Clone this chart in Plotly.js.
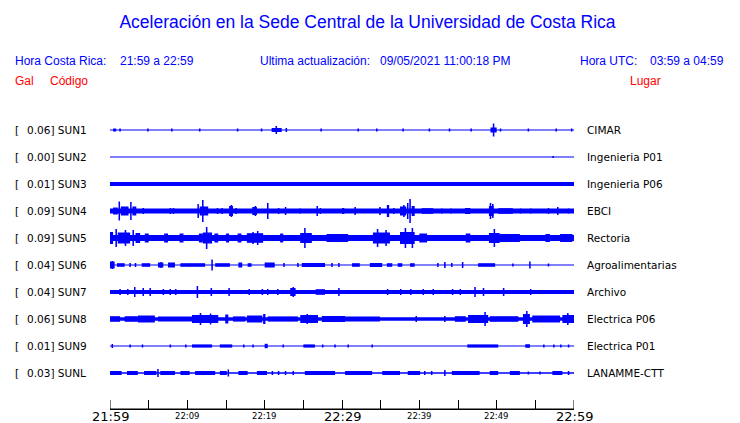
<!DOCTYPE html>
<html>
<head>
<meta charset="utf-8">
<script src="https://cdn.plot.ly/plotly-3.0.1.min.js"></script>
<style>html,body{margin:0;padding:0;background:#fff;}#chart{width:740px;height:423px;}</style>
</head>
<body>
<div id="chart"></div>
<script>
// ---- data ----
const codes = ['SUN1','SUN2','SUN3','SUN4','SUN5','SUN6','SUN7','SUN8','SUN9','SUNL'];
const places = ['CIMAR','Ingenieria P01','Ingenieria P06','EBCI','Rectoria','Agroalimentarias','Archivo','Electrica P06','Electrica P01','LANAMME-CTT'];
const galValues = [0.06, 0.00, 0.01, 0.09, 0.09, 0.04, 0.04, 0.06, 0.01, 0.03];
// background noise level of each trace (relative amplitude, full band)
const noiseLevel = [1, 1, 4, 5, 6, 1, 4, 3.5, 1, 1.5];
// bursts: [start minute, end minute, half amplitude] (minutes after 21:59)
const sun1Bursts = [[0.4,0.8,1.5],[1.2,1.4,1.5],[4.8,5.0,1.5],[7.9,8.1,1.5],[11.5,11.7,1.5],[16.4,16.6,1.5],[19.5,19.7,1.5],[20.9,22.2,2],[21.4,21.6,4],[22.7,22.9,2],[27.2,27.4,1.5],[32.0,32.2,1.5],[34.4,34.6,1.5],[37.8,38.0,1.5],[41.2,41.4,1.5],[43.8,44.0,1.5],[46.6,46.8,1.5],[49.2,50.0,2.5],[49.5,49.7,6.5],[50.4,50.6,1.5],[54.0,54.2,1.5],[57.6,57.8,1.5],[59.6,59.8,1.5]];
const sun2Bursts = [[57.2,57.4,1]];
const sun3Bursts = [];
const sun4Bursts = [[0.4,1.0,3.5],[1.1,1.3,9.5],[1.4,2.4,4.5],[2.6,2.8,9],[2.9,3.4,4.5],[4.2,4.4,3],[7.7,7.9,3],[8.1,8.3,3],[11.3,11.5,7],[11.9,12.1,11],[11.6,12.7,4.5],[13.8,14.0,3],[14.4,14.6,3],[15.4,15.9,5],[15.6,15.8,6],[16.2,16.4,3],[18.4,19.0,4],[18.7,18.9,5],[20.3,20.5,8],[21.7,21.9,3],[22.6,22.8,4],[24.5,24.7,2.5],[26.7,26.9,5],[27.1,27.3,3],[30.0,30.3,3],[31.6,31.8,4],[34.8,35.0,4],[35.8,36.1,6],[36.6,36.8,3],[37.5,38.3,4.5],[37.9,38.1,6],[38.4,38.6,8],[38.7,38.9,12],[39.0,39.4,5],[40.3,41.8,2.8],[42.8,43.0,2.5],[44.0,44.2,2.5],[45.9,46.6,3],[49.0,49.6,5],[49.1,49.3,8],[49.4,49.6,7],[50.2,52.1,2.8],[53.0,53.2,2.5],[54.3,54.5,2.5],[56.6,56.8,3],[57.8,58.0,4],[59.2,59.4,2.5]];
const sun5Bursts = [[0,0.4,6],[0.7,0.9,9],[1.0,2.6,5.5],[1.9,2.1,8],[2.9,3.1,8],[3.3,3.9,5],[4.5,5.0,4.5],[7.0,7.5,4.5],[9.0,9.5,4.5],[11.5,12.0,4.5],[12.0,13.2,5.5],[12.4,12.6,11],[13.5,14.0,4.5],[15.0,15.4,4.5],[16.5,17.0,4.5],[17.7,19.8,4.8],[18.4,18.6,6],[19.0,19.2,7],[22.0,22.4,4.5],[24.6,26.1,5],[25.1,25.3,10],[28.0,30.8,4],[34.0,36.2,5.5],[34.5,34.7,9],[35.6,35.8,8],[37.5,39.4,6],[38.1,38.3,10],[39.0,39.2,10],[40.0,41.0,4.5],[46.0,46.6,4.5],[49.0,50.4,5],[49.6,49.8,9],[50.4,53.0,4],[56.3,56.9,4],[58.2,59.8,4]];
const sun6Bursts = [[0,0.6,3.5],[0.2,0.4,4],[0.9,1.9,1.8],[2.5,2.7,2],[3.2,3.4,2],[4.1,5.2,1.8],[6.2,6.9,2.5],[6.5,6.7,3],[7.5,8.4,2.5],[9.1,12.3,1.8],[13.1,13.3,5.5],[13.6,15.5,1.8],[16.6,17.1,2.5],[17.8,18.3,1.8],[20.0,21.3,2.5],[22.4,22.6,2],[24.2,24.4,2],[24.8,27.8,2],[28.6,28.8,2],[29.5,29.7,2],[31.3,32.3,1.8],[33.6,35.2,2],[35.8,36.5,1.8],[37.2,37.8,1.8],[38.8,39.4,1.8],[42.3,42.5,2],[43.2,43.4,3],[44.1,44.3,2],[45.5,45.7,3],[47.6,49.8,1.8],[52.0,52.2,1.5],[54.2,54.4,3.5],[56.6,56.8,1.5]];
const sun7Bursts = [[1.2,1.4,3],[2.2,2.4,3],[3.1,3.3,5],[4.2,4.4,4],[5.1,5.3,4],[6.8,7.0,3],[7.7,7.9,3],[8.4,8.6,3],[11.2,11.4,6],[13.0,13.2,4],[15.3,15.5,4],[17.9,18.1,3],[19.6,19.8,3],[20.3,20.5,3],[21.6,21.8,3],[23.3,24.0,4],[23.6,23.8,5],[26.6,27.8,2.8],[29.5,29.7,4],[35.8,36.0,3],[37.5,37.7,3],[38.8,39.0,3],[40.4,40.6,3],[41.7,41.9,3],[44.2,44.4,3],[45.2,45.4,3],[47.1,47.3,5],[48.2,48.4,4],[50.8,51.0,4],[54.3,54.5,3]];
const sun8Bursts = [[0,1.3,2.8],[1.9,3.6,2.8],[3.6,5.8,3.5],[6.2,10.6,2.6],[10.6,14.0,4],[11.6,11.8,6],[12.9,13.1,5.5],[14.9,15.3,4.5],[15.9,17.5,2.6],[17.7,19.7,3.5],[19.8,20.1,5],[20.4,24.3,2.6],[24.6,26.9,4],[25.4,25.6,5],[27.4,30.4,3],[30.4,34.9,2.6],[39.5,39.7,3],[43.2,43.4,3],[44.6,46.0,2.8],[46.3,48.9,4],[48.4,48.6,7],[49.1,52.8,2.8],[53.4,54.3,5],[53.8,54.0,8],[54.6,58.2,3.5],[58.5,60,4],[59.1,59.3,6]];
const sun9Bursts = [[0.2,0.4,2],[2.5,2.7,1.5],[4.1,4.3,1.5],[7.7,7.9,1.5],[9.7,9.9,1.5],[10.6,13.2,1.6],[14.2,15.8,1.6],[17.2,17.4,1.5],[18.4,18.6,1.5],[20.0,20.4,2.2],[22.3,22.5,1.5],[25.0,26.5,1.6],[27.4,27.6,1.5],[29.0,29.2,1.5],[30.7,30.9,1.5],[33.8,34.0,1.5],[46.2,50.2,1.6],[53.7,54.3,1.8],[56.0,56.2,1.5],[57.3,57.5,1.5],[58.2,58.4,1.5],[59.2,59.4,1.5]];
const sunLBursts = [[0,1.5,2],[2.2,3.6,2],[4.4,6.0,2],[6.1,6.3,4],[6.5,8.4,2],[9.1,10.3,2],[11.0,13.6,2],[14.2,15.1,2],[15.2,15.4,3.5],[16.6,17.8,2],[19.0,20.3,2],[20.9,21.1,2],[21.7,21.9,2],[22.6,22.8,2],[23.6,23.8,2],[25.2,29.1,2],[30.4,33.9,2],[35.2,37.5,2],[38.5,40.1,2],[40.6,40.8,2],[41.5,41.7,2],[43.2,43.4,3],[44.2,47.8,2],[49.1,50.2,2],[51.7,53.0,2],[54.0,54.2,1.5],[55.5,55.7,1.5],[57.2,58.5,2],[59.2,59.4,2]];
const allBursts = [sun1Bursts, sun2Bursts, sun3Bursts, sun4Bursts, sun5Bursts, sun6Bursts, sun7Bursts, sun8Bursts, sun9Bursts, sunLBursts];
const tickMinutes = [0, 10, 20, 30, 40, 50, 60];
const tickLabels = ['21:59', '22:09', '22:19', '22:29', '22:39', '22:49', '22:59'];
const majorTick = [true, false, false, true, false, false, true];

// ---- build ----
const BLUE = '#0000ff';
const RED = '#ff0000';
const ROW = 27; // amplitude units per row spacing
const traces = [];
allBursts.forEach((bursts, row) => {
  traces.push({
    type: 'scatter', mode: 'lines', x: [0, 60], y: [row, row],
    line: {color: BLUE, width: noiseLevel[row]}, hoverinfo: 'skip'
  });
  if (bursts.length) {
    traces.push({
      type: 'bar',
      x: bursts.map(b => (b[0] + b[1]) / 2),
      width: bursts.map(b => Math.max(b[1] - b[0], 0.16)),
      base: bursts.map(b => row - b[2] / ROW),
      y: bursts.map(b => 2 * b[2] / ROW),
      marker: {color: BLUE, line: {width: 0}},
      hoverinfo: 'skip'
    });
  }
});

const L = 110, R = 574, T = 110, B = 409;
const PAD = 2.3; // annotation inner padding
const px2x = p => (p - L) / (R - L);
const px2y = p => (B - p) / (B - T);
const hdrFont = {family: 'Liberation Sans, Arial, sans-serif', size: 12, color: BLUE};
const redFont = {family: 'Liberation Sans, Arial, sans-serif', size: 12, color: RED};
const lblFont = {family: 'DejaVu Sans, sans-serif', size: 10.5, color: '#000'};
const ann = [];
function addText(text, xp, yp, font) {
  ann.push({text, x: px2x(xp - PAD), y: px2y(yp), xref: 'paper', yref: 'paper',
    xanchor: 'left', yanchor: 'middle', showarrow: false, font});
}
addText('Hora Costa Rica:', 15, 61, hdrFont);
addText('21:59 a 22:59', 120.5, 61, hdrFont);
addText('Ultima actualización:', 260, 61, hdrFont);
addText('09/05/2021 11:00:18 PM', 380.5, 61, hdrFont);
addText('Hora UTC:', 580.5, 61, hdrFont);
addText('03:59 a 04:59', 650.5, 61, hdrFont);
addText('Gal', 15, 81, redFont);
addText('Código', 50, 81, redFont);
addText('Lugar', 630.5, 81, redFont);

codes.forEach((c, row) => {
  const base = {xref: 'paper', yref: 'y', y: row, xanchor: 'left', yanchor: 'middle', showarrow: false, font: lblFont};
  ann.push(Object.assign({text: '[', x: px2x(15 - PAD)}, base));
  ann.push(Object.assign({text: galValues[row].toFixed(2) + '] ' + c, x: px2x(27.5 - PAD)}, base));
  ann.push(Object.assign({text: places[row], x: px2x(587.5 - PAD)}, base));
});
tickMinutes.forEach((m, i) => {
  ann.push({text: tickLabels[i], x: m, xref: 'x', y: px2y(majorTick[i] ? 416.5 : 415.5), yref: 'paper',
    xanchor: 'center', yanchor: 'middle', showarrow: false,
    font: {family: 'DejaVu Sans, sans-serif', size: majorTick[i] ? 13 : 8.5, color: '#000'}});
});

const layout = {
  width: 740, height: 423,
  margin: {l: L, r: 740 - R, t: T, b: 423 - B, pad: 0},
  paper_bgcolor: '#fff', plot_bgcolor: '#fff',
  showlegend: false, hovermode: false, barmode: 'overlay',
  title: {text: 'Aceleración en la Sede Central de la Universidad de Costa Rica',
    x: 367.5 / 740, xanchor: 'center', xref: 'container', y: 1 - 22 / 423, yanchor: 'middle', yref: 'container',
    font: {family: 'Liberation Sans, Arial, sans-serif', size: 17.5, color: BLUE}},
  xaxis: {range: [0, 60], tickvals: [0,5,10,15,20,25,30,35,40,45,50,55,60], ticks: 'inside', ticklen: 9,
    tickwidth: 1, tickcolor: '#000', showticklabels: false, showline: true, linecolor: '#000', linewidth: 1,
    showgrid: false, zeroline: false, fixedrange: true},
  yaxis: {range: [9 + 36 / ROW, -20 / ROW], visible: false, showgrid: false, zeroline: false, fixedrange: true},
  shapes: [
    {type: 'line', xref: 'x', yref: 'paper', x0: 0, x1: 60, y0: 0, y1: 0, line: {color: '#000', width: 1}},
    {type: 'line', xref: 'x', yref: 'paper', x0: 0, x1: 0, y0: 0, y1: 9 / (B - T), line: {color: '#000', width: 1}},
    {type: 'line', xref: 'x', yref: 'paper', x0: 60, x1: 60, y0: 0, y1: 9 / (B - T), line: {color: '#000', width: 1}}
  ],
  annotations: ann
};
Plotly.newPlot('chart', traces, layout, {staticPlot: true, displayModeBar: false});
</script>
</body>
</html>
